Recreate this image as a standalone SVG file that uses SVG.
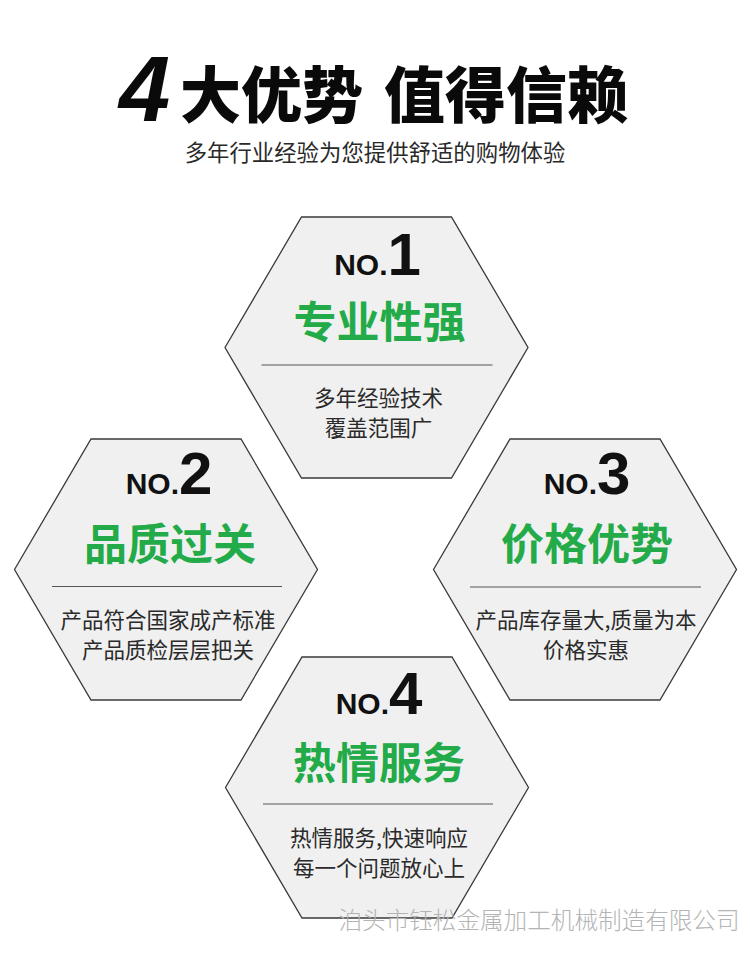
<svg xmlns="http://www.w3.org/2000/svg" width="750" height="960" viewBox="0 0 750 960">
  <style>
    .hex { fill: #f0f0f0; stroke: #3a3a3a; stroke-width: 1.3; }
    .sep { stroke: #555555; stroke-width: 1.2; }
    .no { font-family: "Liberation Sans", "Noto Sans", sans-serif; font-weight: bold; fill: #111111; text-anchor: middle; }
    .no .s { font-size: 30px; }
    .no .b { font-size: 60px; }
    .head { font-family: "Noto Sans CJK SC", "Noto Sans", sans-serif; font-weight: 700; font-size: 43px; fill: #22ab48; text-anchor: middle; }
    .desc { font-family: "Noto Sans CJK SC", "Noto Sans", sans-serif; font-weight: 400; font-size: 21.5px; fill: #2a2a2a; text-anchor: middle; }
    .title { font-family: "Noto Sans CJK SC", "Noto Sans", sans-serif; font-weight: 900; font-size: 61px; fill: #0a0a0a; }
  </style>
  <rect width="750" height="960" fill="#ffffff"/>

  <g id="title">
    <text x="119" y="121" font-family="Liberation Sans, Arial, sans-serif" font-weight="bold" font-style="italic" font-size="92" fill="#0a0a0a">4</text>
    <text class="title" x="180" y="118">大优势</text>
    <text class="title" x="384" y="118">值得信赖</text>
  </g>
  <g id="subtitle">
    <text x="375" y="161" font-family="Noto Sans CJK SC, Noto Sans, sans-serif" font-size="22.4" fill="#2a2a2a" text-anchor="middle">多年行业经验为您提供舒适的购物体验</text>
  </g>

  <g id="hex1" transform="translate(376.5,347.5)">
    <polygon class="hex" points="-151.5,0 -75,-130.5 75,-130.5 151.5,0 75,130.5 -75,130.5"/>
    <text class="no" x="1" y="-73"><tspan class="s">NO.</tspan><tspan class="b">1</tspan></text>
    <text class="head" x="3" y="-10">专业性强</text>
    <line class="sep" x1="-115" y1="17.5" x2="116" y2="17.5"/>
    <text class="desc" x="2" y="58.5">多年经验技术</text>
    <text class="desc" x="2" y="88.5">覆盖范围广</text>
  </g>

  <g id="hex2" transform="translate(166,569.5)">
    <polygon class="hex" points="-151.5,0 -75,-130.5 75,-130.5 151.5,0 75,130.5 -75,130.5"/>
    <text class="no" x="3" y="-76"><tspan class="s">NO.</tspan><tspan class="b">2</tspan></text>
    <text class="head" x="4" y="-10">品质过关</text>
    <line class="sep" x1="-114" y1="17" x2="116" y2="17"/>
    <text class="desc" x="2" y="58.5">产品符合国家成产标准</text>
    <text class="desc" x="2" y="88.5">产品质检层层把关</text>
  </g>

  <g id="hex3" transform="translate(585,569.5)">
    <polygon class="hex" points="-151.5,0 -75,-130.5 75,-130.5 151.5,0 75,130.5 -75,130.5"/>
    <text class="no" x="2" y="-76"><tspan class="s">NO.</tspan><tspan class="b">3</tspan></text>
    <text class="head" x="2" y="-10">价格优势</text>
    <line class="sep" x1="-115" y1="17.5" x2="116" y2="17.5"/>
    <text class="desc" x="1" y="58.5">产品库存量大,质量为本</text>
    <text class="desc" x="1" y="88.5">价格实惠</text>
  </g>

  <g id="hex4" transform="translate(377,787.5)">
    <polygon class="hex" points="-151.5,0 -75,-130.5 75,-130.5 151.5,0 75,130.5 -75,130.5"/>
    <text class="no" x="2" y="-74"><tspan class="s">NO.</tspan><tspan class="b">4</tspan></text>
    <text class="head" x="2" y="-9">热情服务</text>
    <line class="sep" x1="-114" y1="16.5" x2="116" y2="16.5"/>
    <text class="desc" x="2" y="58.5">热情服务,快速响应</text>
    <text class="desc" x="2" y="88.5">每一个问题放心上</text>
  </g>

  <g id="watermark">
    <text x="539" y="929" font-family="Noto Sans CJK SC, Noto Sans, sans-serif" font-weight="300" font-size="23.6" fill="#b4b4b4" text-anchor="middle">泊头市钰松金属加工机械制造有限公司</text>
  </g>
</svg>
